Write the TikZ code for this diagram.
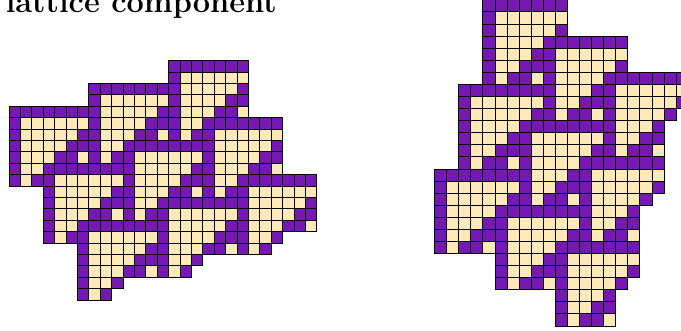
\documentclass[tikz,border=0pt]{standalone}
\usepackage{fontspec}
\definecolor{purp}{RGB}{118,24,180}
\definecolor{crm}{RGB}{255,233,184}
\newcount\gcc
\makeatletter
\newcommand\gridrow[5]{%
  \gcc=0
  \def\gx{#1}\def\gy{#2}\def\gs{#3}\def\gr{#4}%
  \gridrow@i#5\relax}
\def\gridrow@i#1{%
  \ifx#1\relax\else
    \if#1P\path[pcell] ({\gx+\gs*\the\gcc},{\gy+\gs*\gr}) rectangle ++(\gs,\gs);\fi
    \if#1C\path[ccell] ({\gx+\gs*\the\gcc},{\gy+\gs*\gr}) rectangle ++(\gs,\gs);\fi
    \advance\gcc by 1
    \expandafter\gridrow@i
  \fi}
\makeatother
\tikzset{
  pcell/.style={fill=purp,draw=black,line width=0.8pt},
  ccell/.style={fill=crm,draw=black,line width=0.8pt},
  titletext/.style={anchor=base east,inner sep=0pt,font=\fontsize{30.7}{36}\selectfont\bfseries}
}
\begin{document}
\begin{tikzpicture}[x=1pt,y=-1pt]
\useasboundingbox (0,0) rectangle (681,331);
\clip (0,0) rectangle (681,331);
\node[titletext] (title) at (277,13) {lattice component};
% left cluster
\def\LX{9}\def\LY{60.7}\def\LS{11.4}
\gridrow{\LX}{\LY}{\LS}{0}{..............PPPPPPP}
\gridrow{\LX}{\LY}{\LS}{1}{..............PCCCCCC}
\gridrow{\LX}{\LY}{\LS}{2}{.......PPPPPPPPCCCCCP}
\gridrow{\LX}{\LY}{\LS}{3}{.......PCCCCCCPCCCCPP}
\gridrow{\LX}{\LY}{\LS}{4}{PPPPPPPPCCCCCPPCCCPPC}
\gridrow{\LX}{\LY}{\LS}{5}{PCCCCCCPCCCCPPPCCPPPPPPP}
\gridrow{\LX}{\LY}{\LS}{6}{PCCCCCPPCCCPPCPCPPCCCCCC}
\gridrow{\LX}{\LY}{\LS}{7}{PCCCCPPPCCPPPPPPPPCCCCCP}
\gridrow{\LX}{\LY}{\LS}{8}{PCCCPPCPCPPCCCCCCPCCCCPP}
\gridrow{\LX}{\LY}{\LS}{9}{PCCPPPPPPPPCCCCCPPCCCPPC}
\gridrow{\LX}{\LY}{\LS}{10}{PCPPCCCCCCPCCCCPPPCCPPPPPPP}
\gridrow{\LX}{\LY}{\LS}{11}{...PCCCCCPPCCCPPCPCPPCCCCCC}
\gridrow{\LX}{\LY}{\LS}{12}{...PCCCCPPPCCPPPPPPPPCCCCCP}
\gridrow{\LX}{\LY}{\LS}{13}{...PCCCPPCPCPPCCCCCCPCCCCPP}
\gridrow{\LX}{\LY}{\LS}{14}{...PCCPPPPPPPPCCCCCPPCCCPPC}
\gridrow{\LX}{\LY}{\LS}{15}{...PCPPCCCCCCPCCCCPPPCCP}
\gridrow{\LX}{\LY}{\LS}{16}{......PCCCCCPPCCCPPCPCP}
\gridrow{\LX}{\LY}{\LS}{17}{......PCCCCPPPCCP}
\gridrow{\LX}{\LY}{\LS}{18}{......PCCCPPCPCP}
\gridrow{\LX}{\LY}{\LS}{19}{......PCCP}
\gridrow{\LX}{\LY}{\LS}{20}{......PCP}
% right cluster
\def\RX{434.5}\def\RY{-0.2}\def\RS{12.08}
\gridrow{\RX}{\RY}{\RS}{0}{....PPPPPPP}
\gridrow{\RX}{\RY}{\RS}{1}{....PCCCCCC}
\gridrow{\RX}{\RY}{\RS}{2}{....PCCCCCP}
\gridrow{\RX}{\RY}{\RS}{3}{....PCCCCPPPPPPP}
\gridrow{\RX}{\RY}{\RS}{4}{....PCCCPPCCCCCC}
\gridrow{\RX}{\RY}{\RS}{5}{....PCCPPPCCCCCP}
\gridrow{\RX}{\RY}{\RS}{6}{....PCPPCPCCCCPPPPPPP}
\gridrow{\RX}{\RY}{\RS}{7}{..PPPPPPPPCCCPPCCCCCC}
\gridrow{\RX}{\RY}{\RS}{8}{..PCCCCCCPCCPPPCCCCCP}
\gridrow{\RX}{\RY}{\RS}{9}{..PCCCCCPPCPPCPCCCCP}
\gridrow{\RX}{\RY}{\RS}{10}{..PCCCCPPPPPPPPCCCP}
\gridrow{\RX}{\RY}{\RS}{11}{..PCCCPPCCCCCCPCCPP}
\gridrow{\RX}{\RY}{\RS}{12}{..PCCPPPCCCCCPPCPPC}
\gridrow{\RX}{\RY}{\RS}{13}{..PCPPCPCCCCPPPPPPP}
\gridrow{\RX}{\RY}{\RS}{14}{PPPPPPPPCCCPPCCCCCC}
\gridrow{\RX}{\RY}{\RS}{15}{PCCCCCCPCCPPPCCCCCP}
\gridrow{\RX}{\RY}{\RS}{16}{PCCCCCPPCPPCPCCCCP}
\gridrow{\RX}{\RY}{\RS}{17}{PCCCCPPPPPPPPCCCP}
\gridrow{\RX}{\RY}{\RS}{18}{PCCCPPCCCCCCPCCPP}
\gridrow{\RX}{\RY}{\RS}{19}{PCCPPPCCCCCPPCPPC}
\gridrow{\RX}{\RY}{\RS}{20}{PCPPCPCCCCPPPPPPP}
\gridrow{\RX}{\RY}{\RS}{21}{.....PCCCPPCCCCCC}
\gridrow{\RX}{\RY}{\RS}{22}{.....PCCPPPCCCCCP}
\gridrow{\RX}{\RY}{\RS}{23}{.....PCPPCPCCCCP}
\gridrow{\RX}{\RY}{\RS}{24}{..........PCCCP}
\gridrow{\RX}{\RY}{\RS}{25}{..........PCCPP}
\gridrow{\RX}{\RY}{\RS}{26}{..........PCPPC}
\end{tikzpicture}
\end{document}
